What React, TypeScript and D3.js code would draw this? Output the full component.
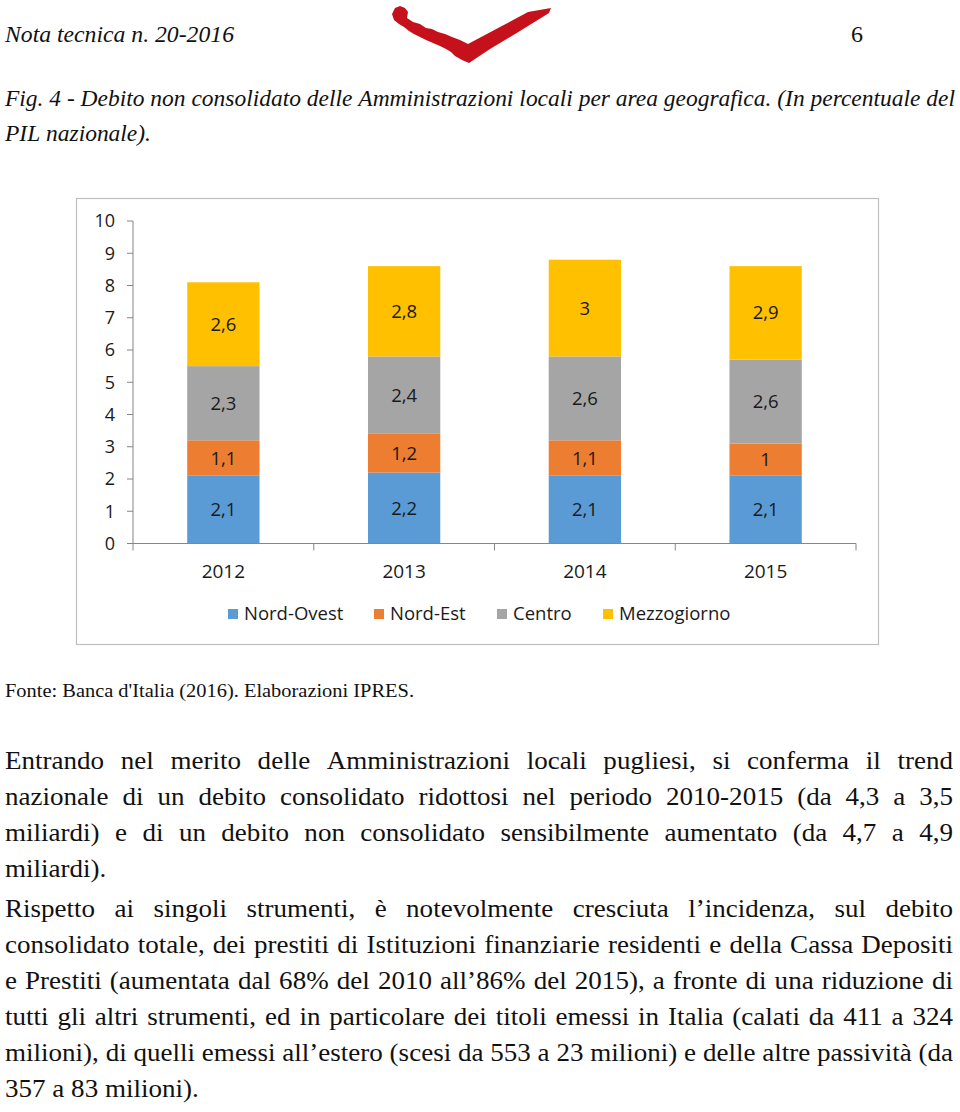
import React, { useEffect, useRef } from "react";
import * as d3 from "d3";

// ---------- data ----------
const years = ["2012", "2013", "2014", "2015"];
const seriesNames = ["Nord-Ovest", "Nord-Est", "Centro", "Mezzogiorno"];
const nordOvest = [2.1, 2.2, 2.1, 2.1];
const nordEst = [1.1, 1.2, 1.1, 1.0];
const centro = [2.3, 2.4, 2.6, 2.6];
const mezzogiorno = [2.6, 2.8, 3.0, 2.9];
const yTicks = [0, 1, 2, 3, 4, 5, 6, 7, 8, 9, 10];
const seriesColors = ["#5B9BD5", "#ED7D31", "#A5A5A5", "#FFC000"];

// ---------- page text ----------
const headerLeft = "Nota tecnica n. 20-2016";
const pageNumber = "6";
const captionLines = [
  "Fig. 4 - Debito non consolidato delle Amministrazioni locali per area geografica. (In percentuale del",
  "PIL nazionale).",
];
const sourceText = "Fonte: Banca d'Italia (2016). Elaborazioni IPRES.";
const para1 = [
  "Entrando nel merito delle Amministrazioni locali pugliesi, si conferma il trend",
  "nazionale di un debito consolidato ridottosi nel periodo 2010-2015 (da 4,3 a 3,5",
  "miliardi) e di un debito non consolidato sensibilmente aumentato (da 4,7 a 4,9",
  "miliardi).",
];
const para2 = [
  "Rispetto ai singoli strumenti, è notevolmente cresciuta l’incidenza, sul debito",
  "consolidato totale, dei prestiti di Istituzioni finanziarie residenti e della Cassa Depositi",
  "e Prestiti (aumentata dal 68% del 2010 all’86% del 2015), a fronte di una riduzione di",
  "tutti gli altri strumenti, ed in particolare dei titoli emessi in Italia (calati da 411 a 324",
  "milioni), di quelli emessi all’estero (scesi da 553 a 23 milioni) e delle altre passività (da",
  "357 a 83 milioni).",
];

const W = 960;
const H = 1112;
const chartFont = "'Open Sans', Lato, sans-serif";
const serif = "'Liberation Serif', 'DejaVu Serif', serif";

const table = years.map((y, i) => ({
  year: y,
  "Nord-Ovest": nordOvest[i],
  "Nord-Est": nordEst[i],
  Centro: centro[i],
  Mezzogiorno: mezzogiorno[i],
}));

const fmt = (v: number) => String(v).replace(".", ",");

export default function App() {
  const textRef = useRef<SVGGElement>(null);

  const x = d3
    .scaleBand<string>()
    .domain(years)
    .range([133, 856])
    .paddingInner(0.6)
    .paddingOuter(0.3);
  const y = d3.scaleLinear().domain([0, 10]).range([543.5, 221]);
  const stack = d3.stack<any>().keys(seriesNames);
  const stacked = stack(table as any);

  const boundaries = [...years.map((yr) => (x(yr) as number) - (x.step() * x.paddingInner()) / 2), 856];
  boundaries[0] = 133;

  useEffect(() => {
    const g = d3.select(textRef.current as SVGGElement);
    g.selectAll("*").remove();

    type Opts = { family: string; size: number; style: string };
    const measurer = (o: Opts) => {
      const t = g
        .append("text")
        .attr("font-family", o.family)
        .attr("font-size", o.size)
        .attr("font-style", o.style)
        .attr("visibility", "hidden");
      const m = (s: string) => {
        t.text(s);
        return (t.node() as SVGTextElement).getComputedTextLength();
      };
      return { m, done: () => t.remove() };
    };

    const layout = (
      paragraphs: { lines: string[]; y0: number; dy: number }[],
      o: Opts,
      x0: number,
      x1: number,
      fill: string,
      spaceFactor: number
    ) => {
      const { m, done } = measurer(o);
      const space = (m("a a") - m("aa")) * spaceFactor;
      const data = paragraphs.map((p) =>
        p.lines.map((l) => {
          const words = l.split(" ");
          return { words, widths: words.map(m) };
        })
      );
      done();
      let s = Infinity;
      data.forEach((pl) =>
        pl.forEach((ld, i) => {
          if (i === pl.length - 1) return;
          const nat = d3.sum(ld.widths) + (ld.words.length - 1) * space;
          s = Math.min(s, (x1 - x0) / nat);
        })
      );
      if (!isFinite(s)) s = 1;
      data.forEach((pl, pi) => {
        const p = paragraphs[pi];
        pl.forEach((ld, i) => {
          const yy = p.y0 + i * p.dy;
          const last = i === pl.length - 1;
          const ws = ld.widths.map((w) => w * s);
          const n = ld.words.length;
          const gap = last || n < 2 ? space * s : (x1 - x0 - d3.sum(ws)) / (n - 1);
          let cx = x0;
          ld.words.forEach((w, k) => {
            g.append("text")
              .attr("transform", `translate(${cx},${yy}) scale(${s},1)`)
              .attr("font-family", o.family)
              .attr("font-size", o.size)
              .attr("font-style", o.style)
              .attr("fill", fill)
              .text(w);
            cx += ws[k] + gap;
          });
        });
      });
    };

    layout(
      [{ lines: captionLines, y0: 106, dy: 35 }],
      { family: serif, size: 24, style: "italic" },
      5,
      955,
      "#111",
      1
    );
    layout(
      [
        { lines: para1, y0: 769, dy: 36 },
        { lines: para2, y0: 917, dy: 36 },
      ],
      { family: serif, size: 25, style: "normal" },
      5,
      953,
      "#111",
      1
    );
  }, []);

  return (
    <svg
      width={W}
      height={H}
      viewBox={`0 0 ${W} ${H}`}
      style={{ position: "absolute", left: 0, top: 0, display: "block", background: "#fff" }}
    >
      <rect x={0} y={0} width={W} height={H} fill="#fff" />
      {/* header */}
      <text x={5} y={42} fontFamily={serif} fontSize={24} fontStyle="italic" fill="#111" textLength={229} lengthAdjust="spacingAndGlyphs">
        {headerLeft}
      </text>
      <text x={851} y={42} fontFamily={serif} fontSize={24} fill="#111">
        {pageNumber}
      </text>
      {/* logo */}
      <path
        d="M392,14 L395,8 L400,6 L405,8 L408,12 L407,18 L413,22 L420,24 L426,28 L432,29 L438,32 L445,34 L452,37 L460,40 L468,44 L500,27 L528,12 L551,8 L549,13 L520,31 L490,49 L469,63 L462,60 L455,56 L451,52 L446,49 L440,46 L433,43 L426,40 L420,37 L414,34 L409,31 L404,27 L399,24 L394,20 Z"
        fill="#C4111B"
      />

      {/* chart frame */}
      <rect x={76.5} y={198.5} width={802} height={446} fill="#fff" stroke="#BFBFBF" strokeWidth={1.2} />

      {/* y axis */}
      <line x1={133} x2={133} y1={y(10)} y2={y(0)} stroke="#868686" strokeWidth={1} />
      {yTicks.map((t) => (
        <g key={t}>
          <line x1={127} x2={133} y1={y(t)} y2={y(t)} stroke="#868686" />
          <text x={115} y={y(t)} dy="0.35em" textAnchor="end" fontFamily={chartFont} fontSize={18} fill="#1a1a1a">
            {t}
          </text>
        </g>
      ))}

      {/* bars */}
      {stacked.map((layer, si) => (
        <g key={layer.key}>
          {layer.map((d, i) => {
            const x0 = x(years[i]) as number;
            const yTop = y(d[1]);
            const yBot = y(d[0]);
            return (
              <g key={i}>
                <rect x={x0} y={yTop} width={x.bandwidth()} height={yBot - yTop} fill={seriesColors[si]} />
                <text
                  x={x0 + x.bandwidth() / 2}
                  y={(yTop + yBot) / 2}
                  dy="0.35em"
                  textAnchor="middle"
                  fontFamily={chartFont}
                  fontSize={18.5}
                  fill="#1a1a1a"
                >
                  {fmt((table[i] as any)[layer.key])}
                </text>
              </g>
            );
          })}
        </g>
      ))}

      {/* x axis */}
      <line x1={133} x2={856} y1={y(0)} y2={y(0)} stroke="#868686" strokeWidth={1} />
      {boundaries.map((b, i) => (
        <line key={i} x1={b} x2={b} y1={y(0)} y2={y(0) + 7} stroke="#868686" />
      ))}
      {years.map((yr) => (
        <text
          key={yr}
          x={(x(yr) as number) + x.bandwidth() / 2}
          y={578}
          textAnchor="middle"
          fontFamily={chartFont}
          fontSize={19}
          fill="#1a1a1a"
        >
          {yr}
        </text>
      ))}

      {/* legend */}
      {seriesNames.map((nm, i) => {
        const lx = [228, 374, 497, 603][i];
        return (
          <g key={nm}>
            <rect x={lx} y={609} width={10} height={10} fill={seriesColors[i]} />
            <text x={lx + 16} y={614} dy="0.35em" fontFamily={chartFont} fontSize={18.5} fill="#1a1a1a">
              {nm}
            </text>
          </g>
        );
      })}

      {/* source */}
      <text x={5} y={697} fontFamily={serif} fontSize={18} fill="#111" textLength={409} lengthAdjust="spacingAndGlyphs">
        {sourceText}
      </text>

      <g ref={textRef} />
    </svg>
  );
}
